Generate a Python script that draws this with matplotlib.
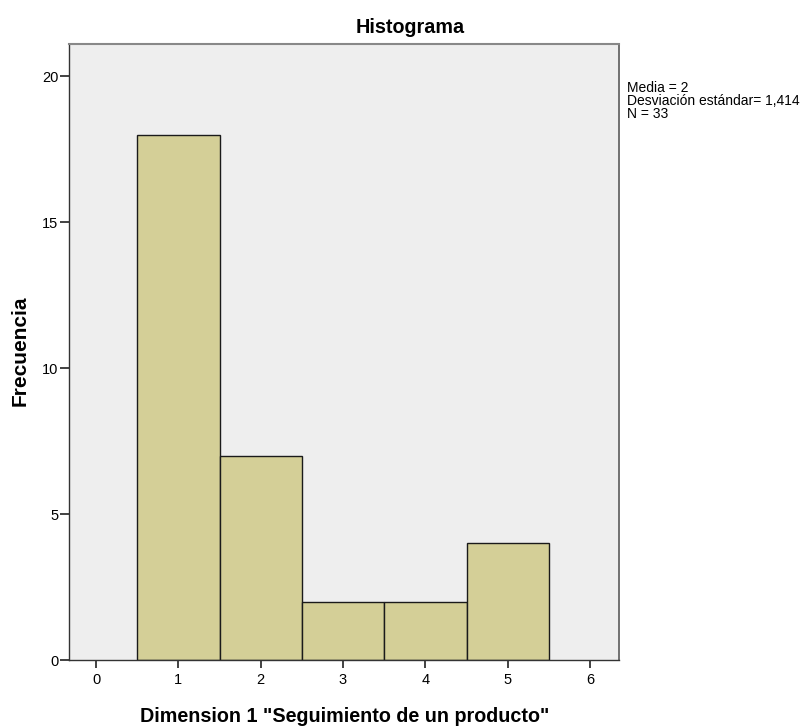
import matplotlib
matplotlib.use("Agg")
import matplotlib.pyplot as plt

categories = [1, 2, 3, 4, 5]
frequencies = [18, 7, 2, 2, 4]
xticks = [0, 1, 2, 3, 4, 5, 6]
yticks = [0, 5, 10, 15, 20]
stats_text = "Media = 2\nDesviación estándar= 1,414\nN = 33"

plt.rcParams['font.family'] = ['Liberation Sans', 'DejaVu Sans']

fig = plt.figure(figsize=(8.09, 7.27), dpi=100)
ax = fig.add_axes([69/809, 1-660/727, 550/809, 616/727])
ax.set_facecolor('#EEEEEE')
ax.bar(categories, frequencies, width=1.0, color='#D4CF97', edgecolor='#1a1a1a', linewidth=1.0, zorder=2)
ax.set_xlim(-0.328, 6.352)
ax.set_ylim(0, 21.1)
ax.set_xticks(xticks)
ax.set_yticks(yticks)
ax.tick_params(axis='x', direction='out', length=6, width=1.3, pad=3, labelsize=10.5, color='#333333')
ax.tick_params(axis='y', direction='out', length=6.5, width=1.3, pad=1, labelsize=10.5, color='#333333')
for s in ax.spines.values():
    s.set_color('#333333')
    s.set_linewidth(1.0)
ax.spines['top'].set_color('#888888')
ax.spines['top'].set_linewidth(1.5)
ax.spines['right'].set_color('#666666')
ax.spines['right'].set_linewidth(1.3)

fig.text(410/809, 1-33/727, 'Histograma', fontsize=14.2, fontweight='bold', ha='center', va='baseline')
ax.set_ylabel('Frecuencia', fontsize=15, fontweight='bold')
ax.yaxis.set_label_coords(20/809, 1-351/727, transform=fig.transFigure)
ax.yaxis.label.set_va('center')
ax.set_xlabel('Dimension 1 "Seguimiento de un producto"', fontsize=14.2, fontweight='bold')
ax.xaxis.set_label_coords(345/809, 1-722/727, transform=fig.transFigure)
ax.xaxis.label.set_va('baseline')

fig.text(627/809, 1-81/727, stats_text, fontsize=10, va='top', ha='left', linespacing=0.9)

fig.savefig('out.png', dpi=100)
